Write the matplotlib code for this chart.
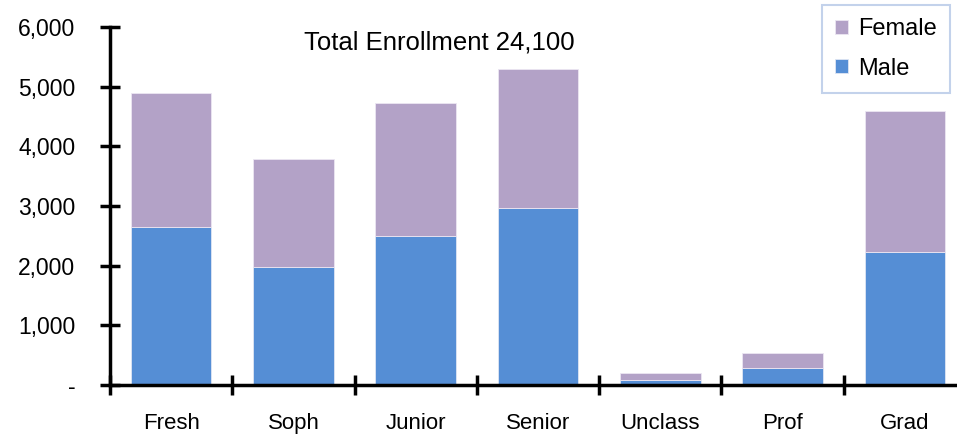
import matplotlib
matplotlib.use('Agg')
import matplotlib.pyplot as plt
from matplotlib.ticker import FuncFormatter, FixedLocator
import numpy as np

# Données
categories = ['Fresh', 'Soph', 'Junior', 'Senior', 'Unclass', 'Prof', 'Grad']
male = [2640, 1980, 2500, 2970, 90, 290, 2230]
female = [2260, 1810, 2230, 2330, 110, 250, 2360]
titre = 'Total Enrollment 24,100'

COUL_MALE = '#558ED5'
COUL_FEMALE = '#B3A2C7'

plt.rcParams['font.family'] = ['Liberation Sans', 'DejaVu Sans']

W, H = 957, 434
fig = plt.figure(figsize=(W / 100, H / 100), dpi=100)
# L'axe déborde à droite de l'image, comme dans l'original
x0, x1 = 110, 966
y0, y1 = 385, 27
ax = fig.add_axes([x0 / W, 1 - y0 / H, (x1 - x0) / W, (y0 - y1) / H])

x = np.arange(len(categories))
ax.bar(x, male, width=0.66, color=COUL_MALE, edgecolor='#dfe6f3', linewidth=0.6, label='Male', zorder=2)
ax.bar(x, female, width=0.66, bottom=male, color=COUL_FEMALE, edgecolor='#ece6f2', linewidth=0.6,
       label='Female', zorder=2)

ax.set_xlim(-0.5, len(categories) - 0.5)
ax.set_ylim(0, 6000)

for s in ['top', 'right']:
    ax.spines[s].set_visible(False)
for s in ['left', 'bottom']:
    ax.spines[s].set_linewidth(2.5)
    ax.spines[s].set_zorder(3)

ax.set_yticks(np.arange(0, 6001, 1000))
ax.yaxis.set_major_formatter(FuncFormatter(lambda v, p: '-' if v == 0 else f'{int(v):,}'))
ax.tick_params(axis='y', direction='inout', length=14, width=2.5, labelsize=16.5, pad=18)

# Graduations de l'axe x entre les catégories, étiquettes au centre
ax.xaxis.set_major_locator(FixedLocator(np.arange(-0.5, len(categories), 1.0)))
ax.xaxis.set_major_formatter(FuncFormatter(lambda v, p: ''))
ax.xaxis.set_minor_locator(FixedLocator(x))
ax.set_xticklabels(categories, minor=True)
ax.tick_params(axis='x', which='major', direction='inout', length=14, width=2.5)
ax.tick_params(axis='x', which='minor', length=0, labelsize=16, pad=20)

ax.text(3.0 - 0.81, 5740, titre, fontsize=18.5, ha='center', va='center')

handles, labels = ax.get_legend_handles_labels()
leg = ax.legend(handles[::-1], labels[::-1], loc='upper left',
                bbox_to_anchor=((822 - x0) / (x1 - x0), 1 + (y1 - 5) / (y0 - y1)),
                fontsize=17, frameon=True, fancybox=False, handlelength=0.55, handleheight=0.55,
                handletextpad=0.45, labelspacing=0.75, borderpad=0.55, borderaxespad=0)
leg.get_frame().set_edgecolor('#b4c7e7')
leg.get_frame().set_linewidth(1.5)

fig.savefig('out.png', dpi=100)
